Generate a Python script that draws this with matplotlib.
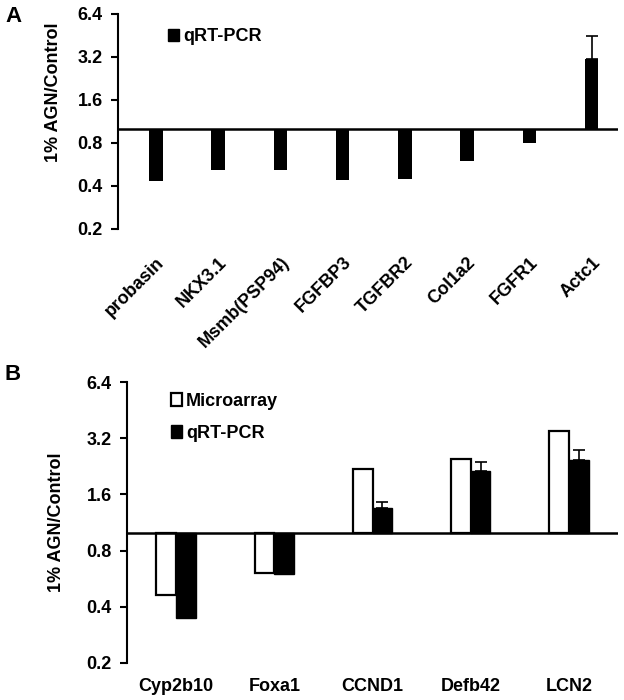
import numpy as np
import matplotlib
matplotlib.use("Agg")
import matplotlib.pyplot as plt
from matplotlib.ticker import FixedLocator, FixedFormatter, NullLocator
from matplotlib.patches import Patch

plt.rcParams['font.family'] = ['Liberation Sans', 'DejaVu Sans']
plt.rcParams['font.weight'] = 'bold'

# panel A: qRT-PCR only
genes_a = ['probasin', 'NKX3.1', 'Msmb(PSP94)', 'FGFBP3', 'TGFBR2', 'Col1a2', 'FGFR1', 'Actc1']
qpcr_a = [0.43, 0.52, 0.52, 0.44, 0.45, 0.60, 0.80, 3.1]
qpcr_a_err = [0, 0, 0, 0, 0, 0, 0, 1.4]

# panel B: microarray vs qRT-PCR
genes_b = ['Cyp2b10', 'Foxa1', 'CCND1', 'Defb42', 'LCN2']
micro_b = [0.46, 0.61, 2.2, 2.49, 3.5]
qpcr_b = [0.35, 0.60, 1.36, 2.14, 2.46]
qpcr_b_err = [0, 0, 0.10, 0.26, 0.32]

yticks = [0.2, 0.4, 0.8, 1.6, 3.2, 6.4]
fs = 13


def style_axis(ax):
    ax.set_yscale('log', base=2)
    ax.set_ylim(0.2, 6.4)
    ax.yaxis.set_major_locator(FixedLocator(yticks))
    ax.yaxis.set_major_formatter(FixedFormatter([f'{t:.1f}' for t in yticks]))
    ax.yaxis.set_minor_locator(NullLocator())
    for s in ['top', 'right', 'bottom']:
        ax.spines[s].set_visible(False)
    ax.spines['left'].set_linewidth(1.5)
    ax.tick_params(axis='y', direction='out', length=5, width=1.5, labelsize=fs, pad=6)
    ax.tick_params(axis='x', length=0, labelsize=fs)
    ax.axhline(1.0, color='black', lw=1.8, zorder=3)
    ax.set_ylabel('1% AGN/Control', fontsize=fs, fontweight='bold')


fig = plt.figure(figsize=(6.24, 7.0), dpi=100)

# ---- panel A
axA = fig.add_axes([0.189, 0.673, 0.801, 0.307])
xa = np.arange(len(genes_a))
vals = np.array(qpcr_a)
axA.bar(xa, vals - 1, bottom=1, width=0.22, color='black', zorder=2)
ea = np.array(qpcr_a_err)
m = ea > 0
axA.errorbar(xa[m], vals[m], yerr=[np.zeros(m.sum()), ea[m]], fmt='none',
             ecolor='black', elinewidth=1.2, capsize=4, capthick=1.2, zorder=2)
style_axis(axA)
axA.yaxis.set_label_coords(-0.112, 0.637)
axA.set_xlim(-0.61, 7.42)
axA.set_xticks(xa)
axA.set_xticklabels(genes_a, rotation=45, ha='right', va='top', rotation_mode='anchor')
axA.tick_params(axis='x', pad=18)
axA.legend(handles=[Patch(facecolor='black', edgecolor='black', label='qRT-PCR')],
           loc='upper left', bbox_to_anchor=(0.083, 0.975), frameon=False, fontsize=fs,
           handlelength=0.6, handleheight=0.7, handletextpad=0.2, borderpad=0)

# ---- panel B
axB = fig.add_axes([0.2035, 0.053, 0.787, 0.401])
xb = np.arange(len(genes_b))
w = 0.2
axB.bar(xb - w / 2, np.array(micro_b) - 1, bottom=1, width=w, color='white',
        edgecolor='black', linewidth=1.6, zorder=2, label='Microarray')
qb = np.array(qpcr_b)
axB.bar(xb + w / 2, qb - 1, bottom=1, width=w, color='black',
        edgecolor='black', linewidth=1.0, zorder=2, label='qRT-PCR')
eb = np.array(qpcr_b_err)
m = eb > 0
axB.errorbar(xb[m] + w / 2, qb[m], yerr=[np.zeros(m.sum()), eb[m]], fmt='none',
             ecolor='black', elinewidth=1.2, capsize=4, capthick=1.2, zorder=2)
style_axis(axB)
axB.yaxis.set_label_coords(-0.126, 0.5)
axB.set_xlim(-0.5, 4.5)
axB.set_xticks(xb)
axB.set_xticklabels(genes_b)
axB.tick_params(axis='x', pad=11)
axB.legend(loc='upper left', bbox_to_anchor=(0.072, 0.995), frameon=False, fontsize=fs,
           handlelength=0.6, handleheight=0.7, handletextpad=0.2, borderpad=0,
           labelspacing=0.85)

fig.text(0.008, 0.992, 'A', fontsize=16, fontweight='bold', va='top')
fig.text(0.008, 0.48, 'B', fontsize=16, fontweight='bold', va='top')

fig.savefig('out.png', dpi=100)
